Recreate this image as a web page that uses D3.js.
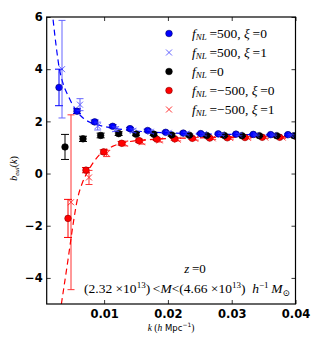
<!DOCTYPE html>
<html>
<head>
<meta charset="utf-8">
<script src="https://cdn.jsdelivr.net/npm/d3@7"></script>
<style>
  body { margin: 0; background: #fff; }
  svg { display: block; }
  .tick text { font-family: "DejaVu Sans", sans-serif; font-weight: bold; font-size: 11.5px; }
  .serif { font-family: "Liberation Serif", "DejaVu Serif", serif; }
</style>
</head>
<body>
<div id="chart"></div>
<script>
// k bins (h/Mpc) and small per-series shift so the markers don't overlap
const kBins = [0.00293, 0.00575, 0.00852, 0.01134, 0.01406, 0.01683, 0.01965,
               0.02241, 0.02514, 0.02790, 0.03067, 0.03338, 0.03611, 0.03882];
const kShift = [0, 0.00047, 0.00094, 0.00141, 0.00188];

// measured biases
const blueDot    = [3.30, 2.39, 1.98, 1.81, 1.72, 1.65, 1.58, 1.55, 1.53, 1.52, 1.51, 1.50, 1.49, 1.49];
const blueDotErr = [0.70, 0.09, 0.07, 0.06, 0.05, 0.05, 0.04, 0.04, 0.04, 0.03, 0.03, 0.03, 0.03, 0.03];
const blueX      = [4.00, 2.64, 1.82, 1.70, 1.64, 1.60, 1.56, 1.53, 1.51, 1.50, 1.49, 1.48, 1.48, 1.47];
const blueXErr   = [1.87, 0.23, 0.15, 0.09, 0.07, 0.06, 0.05, 0.05, 0.04, 0.04, 0.04, 0.03, 0.03, 0.03];
const blackDot   = [1.02, 1.33, 1.46, 1.53, 1.51, 1.51, 1.48, 1.47, 1.46, 1.46, 1.45, 1.45, 1.45, 1.45];
const blackErr   = [0.48, 0.10, 0.09, 0.07, 0.06, 0.05, 0.05, 0.04, 0.04, 0.04, 0.03, 0.03, 0.03, 0.03];
const redDot     = [-1.72, 0.13, 0.83, 1.16, 1.26, 1.32, 1.33, 1.35, 1.36, 1.37, 1.38, 1.39, 1.39, 1.40];
const redDotErr  = [0.73, 0.10, 0.08, 0.07, 0.06, 0.05, 0.05, 0.04, 0.04, 0.04, 0.03, 0.03, 0.03, 0.03];
const redX       = [-1.10, -0.15, 0.77, 1.15, 1.20, 1.27, 1.30, 1.33, 1.35, 1.36, 1.37, 1.38, 1.38, 1.39];
const redXErr    = [3.35, 0.27, 0.12, 0.09, 0.07, 0.06, 0.05, 0.05, 0.04, 0.04, 0.04, 0.03, 0.03, 0.03];

// theory curves [k, b]
const blueTheory = [[0.0020, 5.9], [0.0025, 4.85], [0.0030, 4.0], [0.0035, 3.5], [0.0044, 2.96],
                    [0.0054, 2.5], [0.0067, 2.13], [0.0088, 1.88], [0.011, 1.76], [0.015, 1.63],
                    [0.020, 1.56], [0.025, 1.52], [0.030, 1.50], [0.040, 1.47]];
const redTheory  = [[0.0033, -5.0], [0.0044, -3.2], [0.0051, -2.0], [0.0058, -1.0], [0.0066, -0.35],
                    [0.0075, 0.1], [0.0093, 0.73], [0.0114, 1.05], [0.0135, 1.2], [0.017, 1.3],
                    [0.020, 1.34], [0.025, 1.37], [0.030, 1.39], [0.040, 1.41]];

const xTicks = [0.01, 0.02, 0.03, 0.04];
const yTicks = [-4, -2, 0, 2, 4, 6];

const width = 311, height = 348;
const margin = {top: 17, right: 15.5, bottom: 44, left: 46.7};
const iw = width - margin.left - margin.right;
const ih = height - margin.top - margin.bottom;

const svg = d3.select('#chart').append('svg')
    .attr('width', width).attr('height', height);

const x = d3.scaleLinear().domain([0.001, 0.04]).range([0, iw]);
const y = d3.scaleLinear().domain([-5, 6]).range([ih, 0]);

svg.append('defs').append('clipPath').attr('id', 'clip')
    .append('rect').attr('width', iw).attr('height', ih);

const g = svg.append('g').attr('transform', `translate(${margin.left},${margin.top})`);
const plot = g.append('g').attr('clip-path', 'url(#clip)');

// theory lines
const line = d3.line().x(d => x(d[0])).y(d => y(d[1])).curve(d3.curveMonotoneX);
plot.append('path').datum(redTheory).attr('d', line)
    .attr('fill', 'none').attr('stroke', '#ff0000').attr('stroke-width', 1.2).attr('stroke-dasharray', '6,4');
plot.append('path').datum(blueTheory).attr('d', line)
    .attr('fill', 'none').attr('stroke', '#0000ff').attr('stroke-width', 1.2).attr('stroke-dasharray', '6,4');

const series = [
  {vals: blueDot,  errs: blueDotErr, shift: kShift[0], color: '#0000ff', edge: '#000066', marker: 'o', opacity: 1},
  {vals: blueX,    errs: blueXErr,   shift: kShift[1], color: '#3333ff', marker: 'x', opacity: 0.75},
  {vals: blackDot, errs: blackErr,   shift: kShift[2], color: '#000000', edge: '#000000', marker: 'o', opacity: 1},
  {vals: redDot,   errs: redDotErr,  shift: kShift[3], color: '#ff0000', edge: '#880000', marker: 'o', opacity: 1},
  {vals: redX,     errs: redXErr,    shift: kShift[4], color: '#ff0000', marker: 'x', opacity: 0.8}
];

function drawMarker(sel, s, cx, cy) {
  if (s.marker === 'o') {
    sel.append('circle').attr('cx', cx).attr('cy', cy).attr('r', 3.3)
      .attr('fill', s.color).attr('stroke', s.edge).attr('stroke-width', 0.6);
  } else {
    const r = 3;
    sel.append('path')
      .attr('d', `M${cx - r},${cy - r}L${cx + r},${cy + r}M${cx - r},${cy + r}L${cx + r},${cy - r}`)
      .attr('stroke', s.color).attr('stroke-width', 1).attr('fill', 'none');
  }
}

// draw the black and red first, blue on top like the figure
[3, 4, 2, 0, 1].forEach(i => {
  const s = series[i];
  const sg = plot.append('g').attr('opacity', s.opacity);
  const pts = kBins.map((k, j) => ({k: k + s.shift, v: s.vals[j], e: s.errs[j]}));
  const cap = s.marker === 'o' ? 4 : 3.5;
  pts.forEach(p => {
    const px = x(p.k), y1 = y(p.v + p.e), y0 = y(p.v - p.e);
    sg.append('line').attr('x1', px).attr('x2', px).attr('y1', y1).attr('y2', y0)
      .attr('stroke', s.color).attr('stroke-width', 1);
    [y1, y0].forEach(yy => sg.append('line')
      .attr('x1', px - cap).attr('x2', px + cap).attr('y1', yy).attr('y2', yy)
      .attr('stroke', s.color).attr('stroke-width', 1));
  });
  pts.forEach(p => drawMarker(sg, s, x(p.k), y(p.v)));
});

// axes with inward ticks on all four sides
const fmtY = d => d < 0 ? '\u2212' + Math.abs(d) : String(d);
g.append('g').attr('transform', `translate(0,${ih})`)
  .call(d3.axisBottom(x).tickValues(xTicks).tickSize(-4).tickPadding(6).tickFormat(d3.format('.2f')))
  .call(a => a.select('.domain').remove());
g.append('g').call(d3.axisTop(x).tickValues(xTicks).tickSize(-4).tickFormat(''))
  .call(a => a.select('.domain').remove());
g.append('g')
  .call(d3.axisLeft(y).tickValues(yTicks).tickSize(-4).tickPadding(4).tickFormat(fmtY))
  .call(a => a.select('.domain').remove());
g.append('g').attr('transform', `translate(${iw},0)`)
  .call(d3.axisRight(y).tickValues(yTicks).tickSize(-4).tickFormat(''))
  .call(a => a.select('.domain').remove());
g.selectAll('.tick line').attr('stroke', '#000').attr('stroke-width', 0.8);
g.selectAll('.tick text').attr('fill', '#000');
g.append('rect').attr('width', iw).attr('height', ih)
  .attr('fill', 'none').attr('stroke', '#000').attr('stroke-width', 1.2);

// axis labels
const xl = svg.append('text').attr('x', margin.left + iw / 2).attr('y', 331)
  .attr('text-anchor', 'middle').attr('font-size', 9.5).attr('class', 'serif');
xl.append('tspan').attr('font-style', 'italic').text('k');
xl.append('tspan').text(' (');
xl.append('tspan').attr('font-style', 'italic').text('h');
xl.append('tspan').attr('font-family', 'DejaVu Sans, sans-serif').attr('font-size', 8.5).text(' Mpc');
xl.append('tspan').attr('font-family', 'DejaVu Sans, sans-serif').attr('font-size', 6).attr('dy', -4).text('\u22121');
xl.append('tspan').attr('dy', 4).text(')');

const yl = svg.append('text').attr('transform', `translate(17,${margin.top + ih / 2 + 8}) rotate(-90)`)
  .attr('text-anchor', 'middle').attr('font-size', 10).attr('class', 'serif');
yl.append('tspan').attr('font-style', 'italic').text('b');
yl.append('tspan').attr('font-style', 'italic').attr('font-size', 7).attr('dy', 2).text('eul');
yl.append('tspan').attr('dy', -2).text('(');
yl.append('tspan').attr('font-style', 'italic').text('k');
yl.append('tspan').text(')');

// legend
const legendLabels = [
  ['500', '0'], ['500', '1'], ['0', null], ['\u2212500', '0'], ['\u2212500', '1']
];
const legend = svg.append('g');
legendLabels.forEach((lab, i) => {
  const ly = 33.5 + i * 19;
  const s = series[i];
  const mg = legend.append('g').attr('opacity', s.opacity);
  drawMarker(mg, s, 169, ly);
  const t = legend.append('text').attr('x', 192).attr('y', ly + 4)
    .attr('class', 'serif').attr('font-size', 13.5);
  t.append('tspan').attr('font-style', 'italic').text('f');
  t.append('tspan').attr('font-style', 'italic').attr('font-size', 9).attr('dy', 2.5).text('NL');
  t.append('tspan').attr('dy', -2.5).text('\u2009=' + lab[0]);
  if (lab[1] !== null) {
    t.append('tspan').text(', ');
    t.append('tspan').attr('font-style', 'italic').text('\u03be');
    t.append('tspan').text('\u2009=' + lab[1]);
  }
});

// annotation
svg.append('text').attr('x', 195).attr('y', 273).attr('text-anchor', 'middle')
  .attr('class', 'serif').attr('font-size', 13)
  .call(t => {
    t.append('tspan').attr('font-style', 'italic').text('z');
    t.append('tspan').text('\u2009=0');
  });
const ann = svg.append('text').attr('x', 290).attr('y', 293).attr('text-anchor', 'end')
  .attr('class', 'serif').attr('font-size', 13.5);
ann.append('tspan').text('(2.32 \u00d710');
ann.append('tspan').attr('font-size', 9).attr('dy', -5).text('13');
ann.append('tspan').attr('dy', 5).text(')\u2009<');
ann.append('tspan').attr('font-style', 'italic').text('M');
ann.append('tspan').text('<(4.66 \u00d710');
ann.append('tspan').attr('font-size', 9).attr('dy', -5).text('13');
ann.append('tspan').attr('dy', 5).text(')\u2002');
ann.append('tspan').attr('font-style', 'italic').text('h');
ann.append('tspan').attr('font-size', 9).attr('dy', -5).text('\u22121');
ann.append('tspan').attr('dy', 5).attr('font-style', 'italic').text('\u2009M');
ann.append('tspan').attr('font-size', 9).attr('dy', 3).text('\u2299');
</script>
</body>
</html>
